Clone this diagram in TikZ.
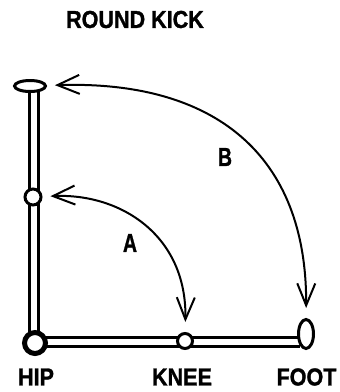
\documentclass[tikz,border=0pt]{standalone}
\usepackage{fontspec}
\setmainfont{Liberation Sans}[FakeStretch=0.88,BoldFeatures={FakeBold=1.2}]
\usetikzlibrary{arrows.meta,shapes.geometric}
\tikzset{
  joint/.style={draw=black,fill=white,circle,inner sep=0pt},
  oval/.style={draw=black,fill=white,ellipse,inner sep=0pt},
  lab/.style={inner sep=0pt,font=\bfseries\fontsize{24.5}{24.5}\selectfont},
  letter/.style={inner sep=0pt,font=\bfseries\fontsize{26}{26}\selectfont},
  bar/.style={double=white,draw=black,double distance=6pt,line width=3pt},
  swing/.style={line width=2pt,{Straight Barb[length=22pt,width=19pt]}-{Straight Barb[length=22pt,width=18pt]}}
}
\begin{document}
\begin{tikzpicture}[x=1pt,y=-1pt]
\useasboundingbox (0,0) rectangle (340,392);
\coordinate (barTop) at (34,90);
\coordinate (barEnd) at (300,342);
\draw[bar] (barTop) |- (barEnd);
\node[oval,minimum width=31pt,minimum height=11pt,line width=3pt] (topE) at (30,86) {};
\node[joint,minimum size=16pt,line width=3pt] (mid) at (33,197) {};
\node[joint,minimum size=21pt,line width=5pt] (hip) at (35,343) {};
\node[joint,minimum size=15pt,line width=3pt] (knee) at (185,341) {};
\node[oval,minimum width=15pt,minimum height=29pt,line width=3pt] (foot) at (306,334) {};
\draw[swing,shorten <=8pt,shorten >=10pt] (topE) .. controls (215,80) and (307,155) .. (foot);
\draw[swing,shorten <=8pt,shorten >=10pt] (mid) .. controls (120,193) and (187,235) .. (knee);
\node[lab] (title) at (135,19.5) {ROUND KICK};
\node[lab] (hipL) at (36,377) {HIP};
\node[lab] (kneeL) at (182,377) {KNEE};
\node[lab] (footL) at (306.5,377) {FOOT};
\node[letter] (aL) at (130,243) {\scalebox{0.85}[1]{A}};
\node[letter] (bL) at (225,157) {\scalebox{0.85}[1]{B}};
\end{tikzpicture}
\end{document}
